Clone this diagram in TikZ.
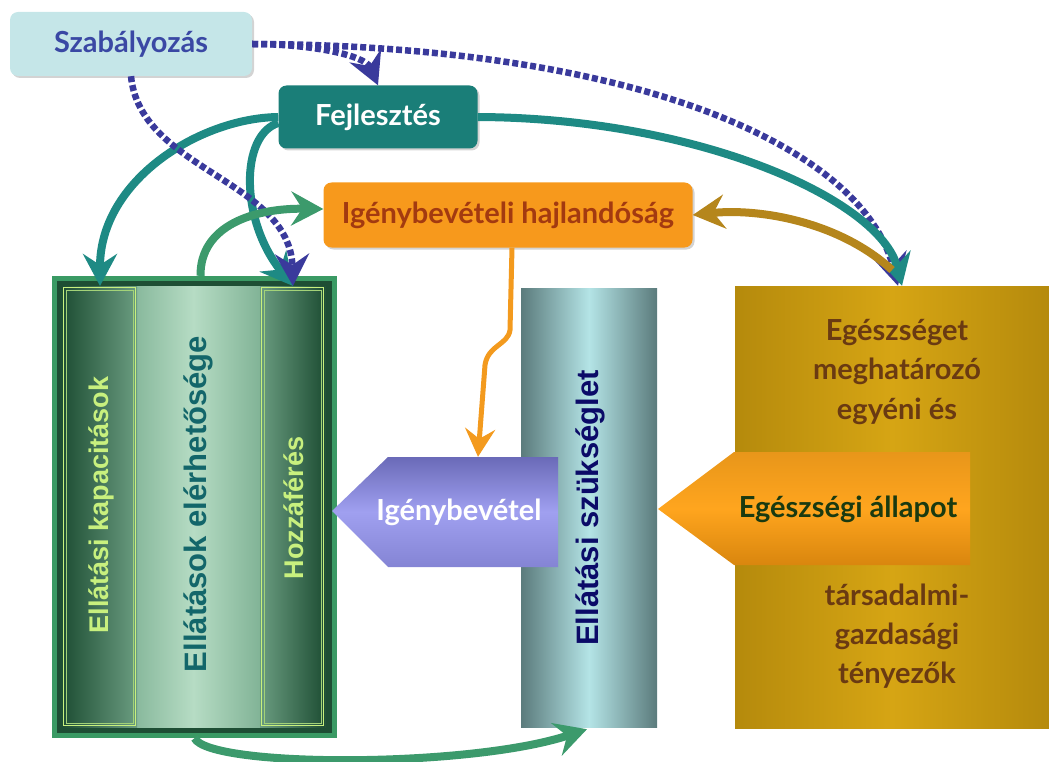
\documentclass[tikz,border=0pt]{standalone}
\usepackage{fontspec}
\setmainfont{Lato}[BoldFont={Lato Bold}]
\newfontfamily\arialf{Liberation Sans}
\usetikzlibrary{arrows.meta,shadows,calc}
\definecolor{szabfill}{HTML}{C5E6E8}
\definecolor{szabtext}{HTML}{3A48A4}
\definecolor{fejfill}{HTML}{1A7E78}
\definecolor{hajlfill}{HTML}{F7991C}
\definecolor{hajltext}{HTML}{A33A10}
\definecolor{tealarr}{HTML}{1E8A84}
\definecolor{greenarr}{HTML}{3C9A6C}
\definecolor{dasharr}{HTML}{3A3A9C}
\definecolor{brownarr}{HTML}{B5861C}
\definecolor{orangearr}{HTML}{F39A1E}
\definecolor{gbord}{HTML}{3A9A64}
\definecolor{gdark}{HTML}{1E4E34}
\definecolor{gmid}{HTML}{4E8C6A}
\definecolor{glight}{HTML}{B6DCC4}
\definecolor{colmid}{HTML}{6A9C80}
\definecolor{lgreen}{HTML}{C8F07E}
\definecolor{ellatext}{HTML}{13666A}
\definecolor{cyledge}{HTML}{5B7B7C}
\definecolor{cylmid}{HTML}{B4E4E6}
\definecolor{szuktext}{HTML}{0B0B68}
\definecolor{lavtop}{HTML}{6A6AB8}
\definecolor{lavmid}{HTML}{A0A0F0}
\definecolor{lavbot}{HTML}{8484D4}
\definecolor{goldedge}{HTML}{B58A0C}
\definecolor{goldmid}{HTML}{D6A514}
\definecolor{goldtext}{HTML}{6A3A12}
\definecolor{ortop}{HTML}{E8961A}
\definecolor{ormid}{HTML}{FFA51E}
\definecolor{orbot}{HTML}{D9860E}
\definecolor{egtext}{HTML}{1A3A10}
\begin{document}
\begin{tikzpicture}[x=1pt,y=-1pt,
  lbl/.style={font=\fontsize{29}{34}\selectfont\bfseries},
  vlbl/.style={font=\arialf\fontsize{27}{30}\selectfont\bfseries, rotate=90},
  rbox/.style={rounded corners=8pt, inner sep=0pt, lbl},
  shd/.style={drop shadow={shadow xshift=2pt, shadow yshift=-2pt, opacity=0.35}},
  tip/.style={-{Stealth[length=32pt,width=34pt,inset=11pt]}},
  thick arr/.style={line width=8pt, tip},
  dasharrow/.style={line width=6.5pt, dash pattern=on 6pt off 3pt, draw=dasharr, -{Stealth[length=32pt,width=34pt,inset=11pt]}}
]
\useasboundingbox (0,0) rectangle (1049,762);

% --- top boxes ---
\node[rbox, shd, fill=szabfill, text=szabtext, minimum width=242pt, minimum height=64pt] (szab) at (131,44) {Szabályozás};
\node[rbox, shd, fill=fejfill, text=white, minimum width=199pt, minimum height=63pt] (fej) at (378,117) {Fejlesztés};
\node[rbox, shd, fill=hajlfill, text=hajltext, minimum width=369pt, minimum height=65pt] (hajl) at (508,215) {Igénybevételi hajlandóság};

% --- green block ---
\node[fill=gbord, inner sep=0pt, minimum width=285pt, minimum height=462pt] (green) at (194.5,507) {};
\fill[gdark] (57,281) rectangle (332,733);
\shade[left color=gmid, right color=gmid, middle color=glight] (62,286) rectangle (325,727);
\shade[left color=gdark, right color=colmid] (62,286) rectangle (137,727);
\draw[lgreen, line width=0.8pt] (63.5,287.5) rectangle (135.5,725.5);
\draw[lgreen!70!gmid, line width=0.8pt] (66,290) rectangle (133,723);
\shade[left color=colmid, right color=gdark] (260,286) rectangle (325,727);
\draw[lgreen, line width=0.8pt] (261.5,287.5) rectangle (323.5,725.5);
\draw[lgreen!70!gmid, line width=0.8pt] (264,290) rectangle (321,723);
\node[vlbl, text=lgreen] (kap) at (101,505) {Ellátási kapacitások};
\node[vlbl, text=lgreen] (hoz) at (294,508) {Hozzáférés};
\node[vlbl, text=ellatext, font=\arialf\fontsize{31}{34}\selectfont\bfseries] (elerh) at (198,504) {Ellátások elérhetősége};
\coordinate (kaptop) at (100,286);
\coordinate (hoztop) at (293,286);

% --- need cylinder ---
\shade[left color=cyledge, right color=cyledge, middle color=cylmid] (521,288) rectangle (657,727);
\node[inner sep=0pt, minimum width=136pt, minimum height=439pt] (szuk) at (589,507.5) {};
\node[vlbl, text=szuktext, font=\arialf\fontsize{31}{34}\selectfont\bfseries] (szuktxt) at (590,508) {Ellátási szükséglet};

% --- gold box ---
\shade[left color=goldedge, right color=goldedge, middle color=goldmid] (735,286) rectangle (1049,728);
\node[inner sep=0pt, minimum width=314pt, minimum height=442pt] (gold) at (892,507) {};
\node[text=goldtext, align=center, font=\fontsize{29}{39.5}\selectfont\bfseries] (det1) at (897,372) {Egészséget\\meghatározó\\egyéni és};
\node[text=goldtext, align=center, font=\fontsize{29}{39}\selectfont\bfseries] (det2) at (897,636) {társadalmi-\\gazdasági\\tényezők};

% --- Igénybevétel arrow shape ---
\shade[top color=lavtop, bottom color=lavbot, middle color=lavmid] (332,511) -- (388,457) -- (558,457) -- (558,567) -- (388,567) -- cycle;
\node[lbl, text=white, inner sep=0pt, minimum width=170pt, minimum height=110pt] (igb) at (459,512) {Igénybevétel};

% --- Egészségi állapot arrow shape ---
\shade[top color=ortop, bottom color=orbot, middle color=ormid] (658,509) -- (734,452) -- (970,452) -- (970,565) -- (734,565) -- cycle;
\node[lbl, text=egtext, inner sep=0pt, minimum width=236pt, minimum height=113pt] (eg) at (848,509) {Egészségi állapot};

% --- connectors ---
% Fejlesztés -> Ellátási kapacitások
\draw[thick arr, draw=tealarr, tealarr] (fej.west) .. controls (200,118) and (100,180) .. (kaptop);
% Fejlesztés -> Hozzáférés
\draw[thick arr, draw=tealarr, tealarr] ($(fej.west)+(0,6)$) .. controls (240,135) and (240,220) .. (hoztop);
% Szabályozás -> Hozzáférés
\draw[dasharrow, dasharr] (szab.south) .. controls (140,170) and (290,180) .. (hoztop);
% Szabályozás -> Fejlesztés
\draw[dasharrow, dasharr] (szab.east) .. controls (310,44) and (365,55) .. (fej.north);
% Szabályozás -> gold
\draw[dasharrow, dasharr] (szab.east) .. controls (620,45) and (860,140) .. ($(gold.north)+(6,0)$);
% Fejlesztés -> gold
\draw[thick arr, draw=tealarr, tealarr] (fej.east) .. controls (700,118) and (880,200) .. ($(gold.north)+(10,0)$);
% green block -> Igénybevételi hajlandóság
\draw[thick arr, draw=greenarr, greenarr] ($(green.north)+(6,0)$) .. controls (200,225) and (255,208) .. ($(hajl.west)+(0,-6)$);
% gold -> Igénybevételi hajlandóság
\coordinate (goldsrc) at (892,270);
\draw[thick arr, draw=brownarr, brownarr] (goldsrc) .. controls (840,222) and (760,208) .. (hajl.east);
% hajlandóság -> Igénybevétel
\draw[line width=5pt, draw=orangearr, orangearr, -{Stealth[length=28pt,width=30pt,inset=10pt]}]
  ($(hajl.south)+(4,0)$) -- (510,330) .. controls (508,345) and (488,345) .. (485,365) -- (igb.north -| 478,0);
% green block -> Ellátási szükséglet
\draw[thick arr, draw=greenarr, greenarr] ($(green.south)+(0,0)$) .. controls (210,768) and (470,768) .. ($(szuk.south)+(-2,2)$);
\end{tikzpicture}
\end{document}
